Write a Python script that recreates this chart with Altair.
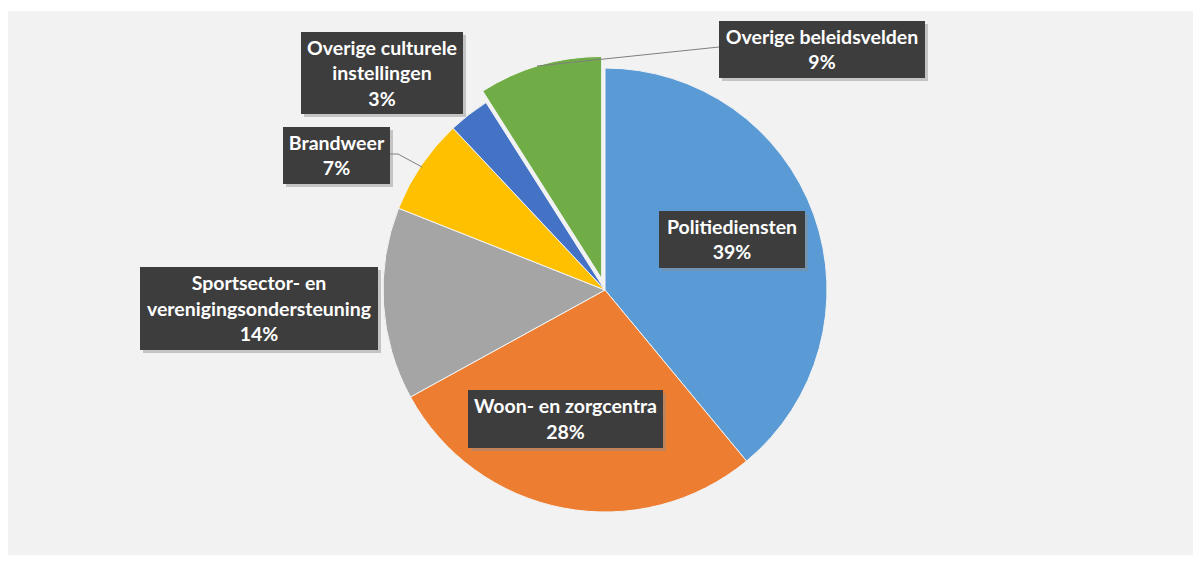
import math
import altair as alt
import pandas as pd

# ---- data ----
categories = [
    "Politiediensten",
    "Woon- en zorgcentra",
    "Sportsector- en verenigingsondersteuning",
    "Brandweer",
    "Overige culturele instellingen",
    "Overige beleidsvelden",
]
values = [39, 28, 14, 7, 3, 9]
label_names = [
    ["Politiediensten"],
    ["Woon- en zorgcentra"],
    ["Sportsector- en", "verenigingsondersteuning"],
    ["Brandweer"],
    ["Overige culturele", "instellingen"],
    ["Overige beleidsvelden"],
]
exploded = "Overige beleidsvelden"

# ---- style / layout ----
colors = ["#5b9bd5", "#ed7d31", "#a5a5a5", "#ffc000", "#4472c4", "#70ad47"]
W, H = 1185, 547
OFF = 8  # page margin, reference coords -> chart coords
CX, CY, R = 605 - OFF, 290 - OFF, 222
EXPLODE = 12
FONT = "Lato"
FS = 19.5
LH = 25.5

# label boxes (x0, x1, y0, y1) in reference pixel space
boxes = {
    "Politiediensten": (659, 805, 211, 268),
    "Woon- en zorgcentra": (468, 663, 390, 448),
    "Sportsector- en verenigingsondersteuning": (140, 378, 267, 350),
    "Brandweer": (283, 390, 127, 184),
    "Overige culturele instellingen": (301, 463, 32, 114),
    "Overige beleidsvelden": (719, 925, 21, 78),
}
leaders = [
    (390, 154, 398, 154),
    (398, 154, 422, 167),
    (537, 66, 719, 47),
]

df = pd.DataFrame({
    "category": categories,
    "value": values,
    "idx": list(range(len(categories))),
})

# explode offset from the slice's mid angle
total = sum(values)
cum = 0
ex_dx = ex_dy = 0.0
for c, v in zip(categories, values):
    if c == exploded:
        mid = 2 * math.pi * (cum + v / 2) / total
        ex_dx = EXPLODE * math.sin(mid)
        ex_dy = -EXPLODE * math.cos(mid)
    cum += v

color_scale = alt.Scale(domain=categories, range=colors)

base_arc = alt.Chart(df)
theta = alt.Theta("value:Q", stack=True)
order = alt.Order("idx:Q", sort="ascending")

pie_main = base_arc.mark_arc(outerRadius=R, stroke="#f4f4f4", strokeWidth=1).encode(
    theta=theta,
    order=order,
    color=alt.Color("category:N", scale=color_scale, legend=None),
    opacity=alt.condition(alt.datum.category == exploded, alt.value(0), alt.value(1)),
    x=alt.value(CX),
    y=alt.value(CY),
)
pie_ex = base_arc.mark_arc(outerRadius=R, stroke="#f4f4f4", strokeWidth=1).encode(
    theta=theta,
    order=order,
    color=alt.Color("category:N", scale=color_scale, legend=None),
    opacity=alt.condition(alt.datum.category == exploded, alt.value(1), alt.value(0)),
    x=alt.value(CX + ex_dx),
    y=alt.value(CY + ex_dy),
)

bg = alt.Chart(pd.DataFrame({"x": [0], "x2": [W], "y": [11 - OFF], "y2": [H]})).mark_rect(
    color="#f2f2f2"
).encode(
    x=alt.X("x:Q", scale=None, axis=None),
    x2="x2:Q",
    y=alt.Y("y:Q", scale=None, axis=None),
    y2="y2:Q",
)

lab_rows = []
for c, v, names in zip(categories, values, label_names):
    x0, x1, y0, y1 = boxes[c]
    lines_ = names + [f"{v}%"]
    n = len(lines_)
    lab_rows.append({
        "category": c,
        "x0": x0 - OFF, "x1": x1 - OFF, "y0": y0 - OFF, "y1": y1 - OFF,
        "sx0": x0 - OFF + 3, "sx1": x1 - OFF + 3, "sy0": y0 - OFF + 3, "sy1": y1 - OFF + 3,
        "cx": (x0 + x1) / 2 - OFF,
        "cy": (y0 + y1) / 2 - OFF + 1 - (n - 1) / 2 * LH,
        "text": "\n".join(lines_),
    })
lab = pd.DataFrame(lab_rows)

shadow = alt.Chart(lab).mark_rect(color="#8c8c8c", opacity=0.45).encode(
    x=alt.X("sx0:Q", scale=None, axis=None), x2="sx1:Q",
    y=alt.Y("sy0:Q", scale=None, axis=None), y2="sy1:Q",
)
box = alt.Chart(lab).mark_rect(color="#3d3d3d").encode(
    x=alt.X("x0:Q", scale=None, axis=None), x2="x1:Q",
    y=alt.Y("y0:Q", scale=None, axis=None), y2="y1:Q",
)
txt = alt.Chart(lab).mark_text(
    font=FONT, fontSize=FS, fontWeight="bold", color="#ffffff",
    align="center", baseline="middle", lineBreak="\n", lineHeight=LH,
).encode(
    x=alt.X("cx:Q", scale=None, axis=None),
    y=alt.Y("cy:Q", scale=None, axis=None),
    text="text:N",
)

ld = pd.DataFrame([{"x": a - OFF, "y": b - OFF, "x2": c - OFF, "y2": d - OFF} for a, b, c, d in leaders])
lines = alt.Chart(ld).mark_rule(color="#7f7f7f", strokeWidth=1).encode(
    x=alt.X("x:Q", scale=None, axis=None), x2="x2:Q",
    y=alt.Y("y:Q", scale=None, axis=None), y2="y2:Q",
)

chart = alt.layer(bg, pie_main, pie_ex, lines, shadow, box, txt).properties(
    width=W, height=H, padding=0, autosize=alt.AutoSizeParams(type="none"),
    background="#ffffff",
).configure_view(stroke=None)

chart.save("out.html", embed_options={"renderer": "svg", "actions": False})
